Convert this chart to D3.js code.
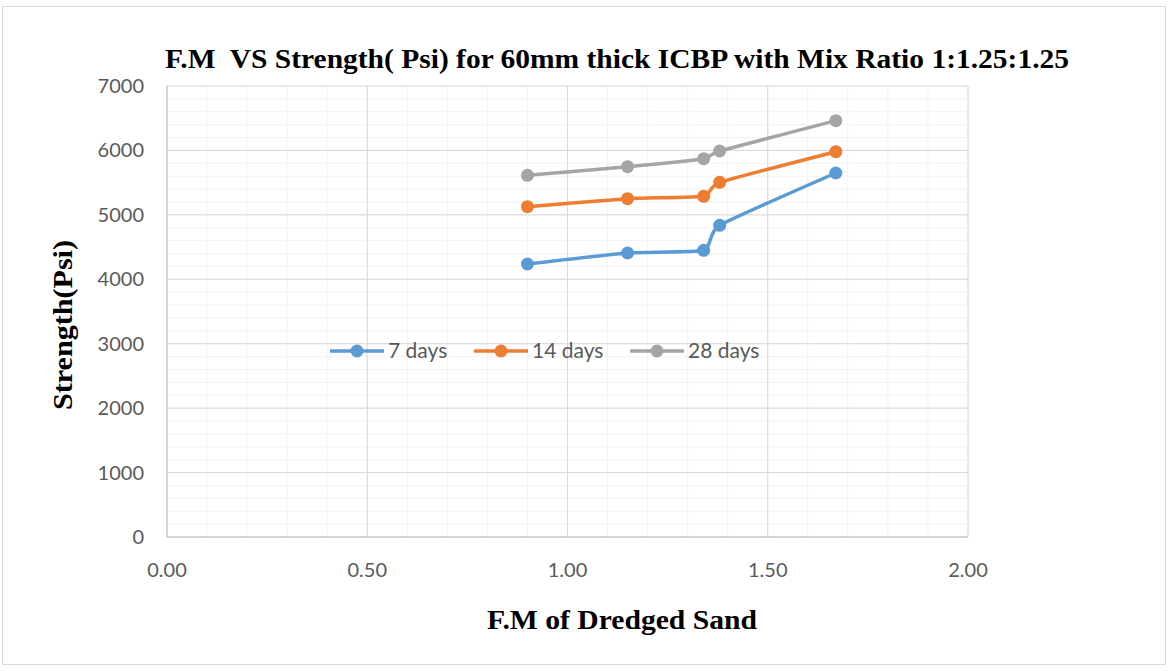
<!DOCTYPE html>
<html lang="en">
<head>
    <meta charset="UTF-8">
    <title>F.M VS Strength</title>
    <script src="https://d3js.org/d3.v7.min.js"></script>
    <style>
        body { margin: 0; background: #fff; }
    </style>
</head>
<body>
    <div id="chart"></div>
    <script>
        // values
        const fm = [0.90, 1.15, 1.34, 1.38, 1.67];
        const days7 = [4237, 4408, 4450, 4838, 5650];
        const days14 = [5127, 5251, 5288, 5505, 5980];
        const days28 = [5614, 5748, 5872, 5991, 6462];
        const seriesNames = ["7 days", "14 days", "28 days"];
        const seriesColors = ["#5B9BD5", "#ED7D31", "#A5A5A5"];
        const xTicks = [0, 0.5, 1, 1.5, 2];
        const yTicks = [0, 1000, 2000, 3000, 4000, 5000, 6000, 7000];

        const sans = 'Lato, "Open Sans", sans-serif';
        const serif = '"Liberation Serif", "DejaVu Serif", serif';

        const width = 1169, height = 671;
        const svg = d3.select("#chart").append("svg")
            .attr("width", width)
            .attr("height", height);

        // outer chart border
        svg.append("rect")
            .attr("x", 2.5).attr("y", 6.5)
            .attr("width", 1163).attr("height", 658)
            .attr("fill", "none").attr("stroke", "#D9D9D9");

        const x = d3.scaleLinear().domain([0, 2]).range([167, 968]);
        const y = d3.scaleLinear().domain([0, 7000]).range([537, 86]);

        // minor gridlines
        const g = svg.append("g");
        g.selectAll(".vminor").data(d3.range(0, 2.0001, 0.1))
            .enter().append("line")
            .attr("x1", d => x(d)).attr("x2", d => x(d))
            .attr("y1", y(0)).attr("y2", y(7000))
            .attr("stroke", "#F2F2F2").attr("stroke-width", 1);
        g.selectAll(".hminor").data(d3.range(0, 7001, 200))
            .enter().append("line")
            .attr("x1", x(0)).attr("x2", x(2))
            .attr("y1", d => y(d)).attr("y2", d => y(d))
            .attr("stroke", "#F2F2F2").attr("stroke-width", 1);

        // major gridlines
        g.selectAll(".vmajor").data(xTicks)
            .enter().append("line")
            .attr("x1", d => x(d)).attr("x2", d => x(d))
            .attr("y1", y(0)).attr("y2", y(7000))
            .attr("stroke", "#D9D9D9").attr("stroke-width", 1);
        g.selectAll(".hmajor").data(yTicks)
            .enter().append("line")
            .attr("x1", x(0)).attr("x2", x(2))
            .attr("y1", d => y(d)).attr("y2", d => y(d))
            .attr("stroke", "#D9D9D9").attr("stroke-width", 1);

        // axis lines
        g.append("line").attr("x1", x(0)).attr("x2", x(0))
            .attr("y1", y(0)).attr("y2", y(7000))
            .attr("stroke", "#BFBFBF");
        g.append("line").attr("x1", x(0)).attr("x2", x(2))
            .attr("y1", y(0)).attr("y2", y(0))
            .attr("stroke", "#BFBFBF");

        // tick labels
        svg.selectAll(".ylab").data(yTicks)
            .enter().append("text")
            .attr("x", 144).attr("y", d => y(d))
            .attr("dy", "0.35em")
            .attr("text-anchor", "end")
            .style("font-family", sans).style("font-size", "20px")
            .attr("fill", "#595959")
            .text(d => d);
        svg.selectAll(".xlab").data(xTicks)
            .enter().append("text")
            .attr("x", d => x(d)).attr("y", 570)
            .attr("dy", "0.35em")
            .attr("text-anchor", "middle")
            .style("font-family", sans).style("font-size", "20px")
            .attr("fill", "#595959")
            .text(d => d3.format(".2f")(d));

        // lines and markers (smoothed like the spreadsheet's line)
        const allSeries = [days7, days14, days28];
        const line = d3.line()
            .x((d, i) => x(fm[i]))
            .y(d => y(d))
            .curve(d3.curveCardinal.tension(0.5));

        allSeries.forEach((vals, s) => {
            svg.append("path")
                .datum(vals)
                .attr("d", line)
                .attr("fill", "none")
                .attr("stroke", seriesColors[s])
                .attr("stroke-width", 3.5)
                .attr("stroke-linecap", "round");
            svg.selectAll(".pt" + s).data(vals)
                .enter().append("circle")
                .attr("cx", (d, i) => x(fm[i]))
                .attr("cy", d => y(d))
                .attr("r", 6.5)
                .attr("fill", seriesColors[s]);
        });

        // legend
        const legendX = [330, 474, 630];
        seriesNames.forEach((name, s) => {
            const lg = svg.append("g").attr("transform", `translate(${legendX[s]},351)`);
            lg.append("line").attr("x1", 0).attr("x2", 54)
                .attr("stroke", seriesColors[s]).attr("stroke-width", 3.5);
            lg.append("circle").attr("cx", 27).attr("r", 6.5).attr("fill", seriesColors[s]);
            lg.append("text").attr("x", 58).attr("dy", "0.35em")
                .style("font-family", sans).style("font-size", "21px")
                .attr("fill", "#595959")
                .text(name);
        });

        // titles
        svg.append("text")
            .attr("x", 165).attr("y", 68)
            .attr("textLength", 904).attr("lengthAdjust", "spacingAndGlyphs")
            .style("font-family", serif).style("font-weight", "bold")
            .style("font-size", "27px").style("white-space", "pre")
            .attr("fill", "#000")
            .text("F.M  VS Strength( Psi) for 60mm thick ICBP with Mix Ratio 1:1.25:1.25");
        svg.append("text")
            .attr("transform", "translate(72,410) rotate(-90)")
            .attr("textLength", 170).attr("lengthAdjust", "spacingAndGlyphs")
            .style("font-family", serif).style("font-weight", "bold")
            .style("font-size", "27px")
            .attr("fill", "#000")
            .text("Strength(Psi)");
        svg.append("text")
            .attr("x", 487).attr("y", 629)
            .attr("textLength", 270).attr("lengthAdjust", "spacingAndGlyphs")
            .style("font-family", serif).style("font-weight", "bold")
            .style("font-size", "27px")
            .attr("fill", "#000")
            .text("F.M of Dredged Sand");
    </script>
</body>
</html>
